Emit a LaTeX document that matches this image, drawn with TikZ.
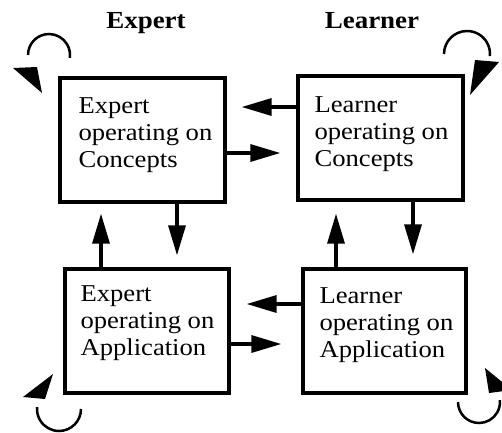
\documentclass[tikz,border=0pt]{standalone}
\usepackage{fontspec}
\setmainfont{Liberation Serif}[FakeStretch=1.1]
\usetikzlibrary{arrows.meta}
\begin{document}
\begin{tikzpicture}[x=1pt, y=-1pt,
  stage/.style={draw, line width=3.3pt, rectangle, inner sep=0pt},
  lbl/.style={anchor=north west, inner sep=0pt, align=left,
    font=\fontsize{24.2}{27}\selectfont},
  heading/.style={anchor=base, inner sep=0pt,
    font=\fontsize{24.5}{27}\selectfont\bfseries},
  flow/.style={line width=3.3pt, -{Triangle[length=30pt, width=17pt]}},
  loop/.style={line width=2.5pt},
  head/.style={fill=black}]
\clip (0,0) rectangle (502,432);

% column headings
\node[heading] (hexp) at (146,28) {Expert};
\node[heading] (hlrn) at (372,28) {Learner};

% the four stages
\node[stage, minimum width=165pt, minimum height=124pt] (b1) at (142.5,140) {};
\node[stage, minimum width=165pt, minimum height=124pt] (b2) at (380.5,138) {};
\node[stage, minimum width=164pt, minimum height=124pt] (b3) at (147,331) {};
\node[stage, minimum width=163pt, minimum height=124pt] (b4) at (384.5,331) {};

\node[lbl] (t1) at ([shift={(20,21)}]b1.north west) {Expert\\operating on\\Concepts};
\node[lbl] (t2) at ([shift={(18,22)}]b2.north west) {Learner\\operating on\\Concepts};
\node[lbl] (t3) at ([shift={(17,18)}]b3.north west) {Expert\\operating on\\Application};
\node[lbl] (t4) at ([shift={(18,20)}]b4.north west) {Learner\\operating on\\Application};

% exchanges between stages
\draw[flow, shorten >=15pt] (b2.west |- 0,107) -- (b1.east |- 0,107);
\draw[flow, shorten >=16pt] (b1.east |- 0,153) -- (b2.west |- 0,153);
\draw[flow, shorten >=12pt] (b1.south -| 177,0) -- (b3.north -| 177,0);
\draw[flow, shorten >=10pt] (b3.north -| 101,0) -- (b1.south -| 101,0);
\draw[flow, shorten >=13pt] (b2.south -| 413,0) -- (b4.north -| 413,0);
\draw[flow, shorten >=12pt] (b4.north -| 336,0) -- (b2.south -| 336,0);
\draw[flow, shorten >=16pt] (b4.west |- 0,304) -- (b3.east |- 0,304);
\draw[flow, shorten >=20pt] (b3.east |- 0,344) -- (b4.west |- 0,344);

% self loops at the outer corners
\draw[loop] (28,55) arc[start angle=180, end angle=368, radius=21];
\fill[head] (13,68) -- (37,67) -- (42,93) -- cycle;

\draw[loop] (444,54) arc[start angle=180, end angle=365, radius=23];
\fill[head] (475,60) -- (499,62) -- (470,95) -- cycle;

\draw[loop] (81,409) arc[start angle=0, end angle=185, radius=22];
\fill[head] (23,397) -- (45,399) -- (53,374) -- cycle;

\draw[loop] (458,402) arc[start angle=180, end angle=-5, radius=21];
\fill[head] (485,368) -- (489,393) -- (512,390) -- cycle;
\end{tikzpicture}
\end{document}
